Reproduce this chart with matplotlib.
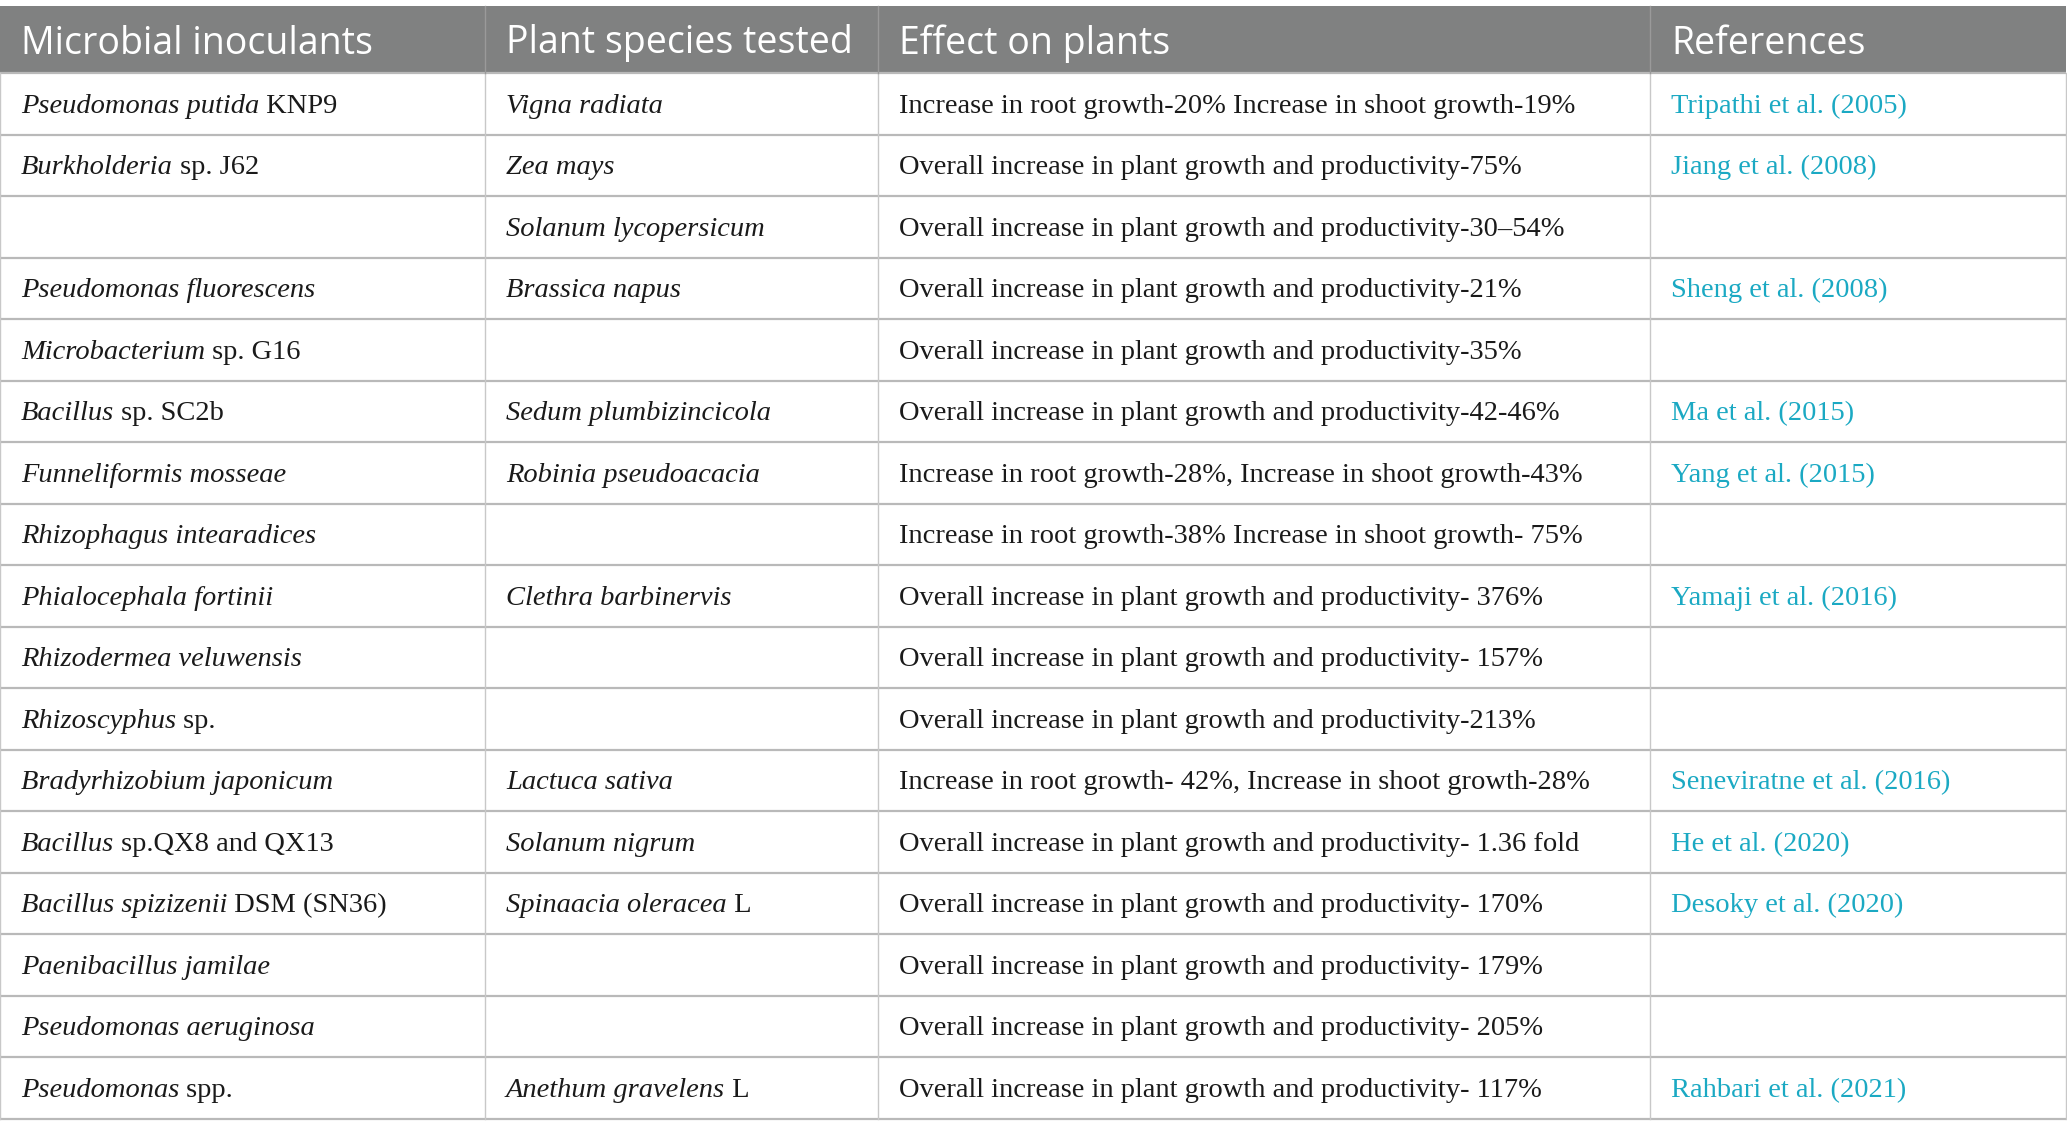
import matplotlib
matplotlib.use("Agg")
import matplotlib.pyplot as plt

# table content: (italic part, roman part)
headers = ["Microbial inoculants", "Plant species tested", "Effect on plants", "References"]

microbes = [
    ("Pseudomonas putida", " KNP9"),
    ("Burkholderia", " sp. J62"),
    ("", ""),
    ("Pseudomonas fluorescens", ""),
    ("Microbacterium", " sp. G16"),
    ("Bacillus", " sp. SC2b"),
    ("Funneliformis mosseae", ""),
    ("Rhizophagus intearadices", ""),
    ("Phialocephala fortinii", ""),
    ("Rhizodermea veluwensis", ""),
    ("Rhizoscyphus", " sp."),
    ("Bradyrhizobium japonicum", ""),
    ("Bacillus", " sp.QX8 and QX13"),
    ("Bacillus spizizenii", " DSM (SN36)"),
    ("Paenibacillus jamilae", ""),
    ("Pseudomonas aeruginosa", ""),
    ("Pseudomonas", " spp."),
]

plants = [
    ("Vigna radiata", ""),
    ("Zea mays", ""),
    ("Solanum lycopersicum", ""),
    ("Brassica napus", ""),
    ("", ""),
    ("Sedum plumbizincicola", ""),
    ("Robinia pseudoacacia", ""),
    ("", ""),
    ("Clethra barbinervis", ""),
    ("", ""),
    ("", ""),
    ("Lactuca sativa", ""),
    ("Solanum nigrum", ""),
    ("Spinaacia oleracea", " L"),
    ("", ""),
    ("", ""),
    ("Anethum gravelens", " L"),
]

effects = [
    "Increase in root growth-20% Increase in shoot growth-19%",
    "Overall increase in plant growth and productivity-75%",
    "Overall increase in plant growth and productivity-30\u201354%",
    "Overall increase in plant growth and productivity-21%",
    "Overall increase in plant growth and productivity-35%",
    "Overall increase in plant growth and productivity-42-46%",
    "Increase in root growth-28%, Increase in shoot growth-43%",
    "Increase in root growth-38% Increase in shoot growth- 75%",
    "Overall increase in plant growth and productivity- 376%",
    "Overall increase in plant growth and productivity- 157%",
    "Overall increase in plant growth and productivity-213%",
    "Increase in root growth- 42%, Increase in shoot growth-28%",
    "Overall increase in plant growth and productivity- 1.36 fold",
    "Overall increase in plant growth and productivity- 170%",
    "Overall increase in plant growth and productivity- 179%",
    "Overall increase in plant growth and productivity- 205%",
    "Overall increase in plant growth and productivity- 117%",
]

refs = [
    "Tripathi et al. (2005)", "Jiang et al. (2008)", "", "Sheng et al. (2008)", "",
    "Ma et al. (2015)", "Yang et al. (2015)", "", "Yamaji et al. (2016)", "", "",
    "Seneviratne et al. (2016)", "He et al. (2020)", "Desoky et al. (2020)", "", "",
    "Rahbari et al. (2021)",
]

# layout in pixels
W, H = 2067, 1135
col_x = [0, 485, 878, 1650, 2066]
head_top, head_bot = 6, 73
row_h = 61.5
pad = 21

HEAD_BG = "#808181"
LINE_H = "#b9b9b9"
LINE_V = "#c8c8c8"
LINK = "#1ba9c3"
SERIF = "Liberation Serif"
FS = 20.5

fig = plt.figure(figsize=(W / 100, H / 100), dpi=100)
ax = fig.add_axes([0, 0, 1, 1])
ax.set_xlim(0, W)
ax.set_ylim(H, 0)
ax.axis("off")

ax.fill_between([col_x[0], col_x[-1]], head_top, head_bot, color=HEAD_BG, lw=0)
for i, h in enumerate(headers):
    ax.text(col_x[i] + pad, (head_top + head_bot) / 2 + 4, h, color="white",
            family="Open Sans", fontsize=27, va="center", ha="left")

n = len(effects)
ys = [head_bot + row_h * k for k in range(n + 1)]
for y in ys:
    ax.plot([col_x[0], col_x[-1]], [y, y], color=LINE_H, lw=1.6, solid_capstyle="butt")
for x in col_x:
    ax.plot([x, x], [head_bot, ys[-1]], color=LINE_V, lw=1.0)
for x in col_x[1:-1]:
    ax.plot([x, x], [head_top, head_bot], color="#9a9a9a", lw=1.0)

fig.canvas.draw()
renderer = fig.canvas.get_renderer()
inv = ax.transData.inverted()


def mixed(x, y, ital, roman, color="#1a1a1a"):
    xx = x
    if ital:
        t = ax.text(xx, y, ital, family=SERIF, style="italic", fontsize=FS,
                    va="baseline", ha="left", color=color)
        bb = t.get_window_extent(renderer)
        x1 = inv.transform((bb.x1, bb.y0))[0]
        x0 = inv.transform((bb.x0, bb.y0))[0]
        xx = xx + (x1 - x0)
    if roman:
        ax.text(xx, y, roman, family=SERIF, fontsize=FS, va="baseline",
                ha="left", color=color)


for r in range(n):
    base = ys[r] + row_h / 2 + 9
    mixed(col_x[0] + pad, base, *microbes[r])
    mixed(col_x[1] + pad, base, *plants[r])
    mixed(col_x[2] + pad, base, "", effects[r])
    mixed(col_x[3] + pad, base, "", refs[r], color=LINK)

fig.savefig("out.png", dpi=100)
